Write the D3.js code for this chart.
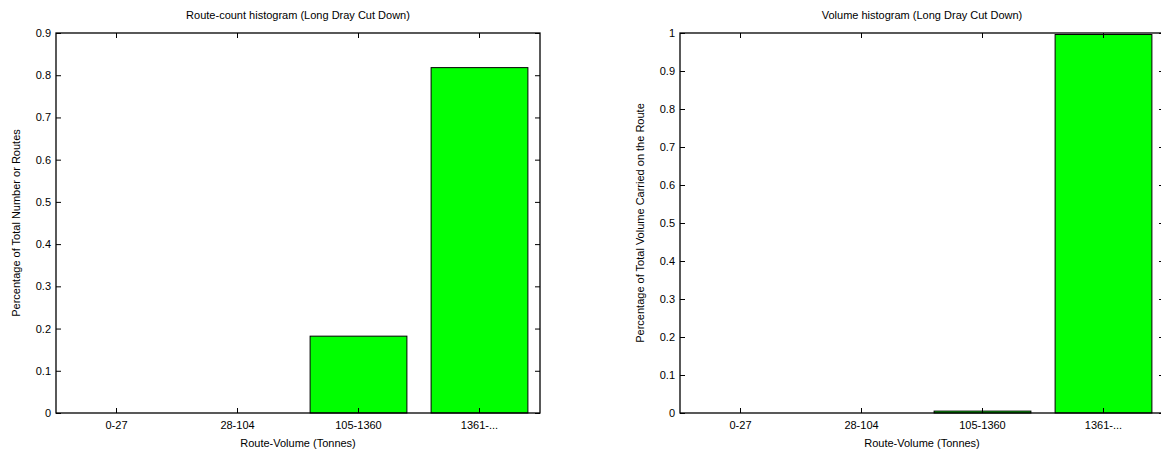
<!DOCTYPE html>
<html>
<head>
<meta charset="utf-8">
<script src="https://d3js.org/d3.v7.min.js"></script>
<style>
  body { margin: 0; background: #fff; }
  svg text { font-family: "Liberation Sans", Arial, sans-serif; fill: #000; }
  .axis path { display: none; }
  .axis line { stroke: #000; }
</style>
</head>
<body>
<div id="chart"></div>
<script>
"use strict";

// categories and values
var categories = ["0-27", "28-104", "105-1360", "1361-..."];
var routeShare = [0, 0, 0.182, 0.818];
var volumeShare = [0, 0, 0.005, 0.996];
var routeTicks = [0, 0.1, 0.2, 0.3, 0.4, 0.5, 0.6, 0.7, 0.8, 0.9];
var volumeTicks = [0, 0.1, 0.2, 0.3, 0.4, 0.5, 0.6, 0.7, 0.8, 0.9, 1];

var svg = d3.select("#chart").append("svg")
    .attr("width", 1161)
    .attr("height", 453);

var panels = [
  { left: 56, title: "Route-count histogram (Long Dray Cut Down)",
    ylabel: "Percentage of Total Number or Routes",
    values: routeShare, ticks: routeTicks, ymax: 0.9 },
  { left: 680, title: "Volume histogram (Long Dray Cut Down)",
    ylabel: "Percentage of Total Volume Carried on the Route",
    values: volumeShare, ticks: volumeTicks, ymax: 1 }
];

var plotW = 484, plotH = 380, plotTop = 33;

panels.forEach(function (p) {
  var g = svg.append("g").attr("transform", "translate(" + p.left + "," + plotTop + ")");

  var x = d3.scaleBand().domain(categories).range([0, plotW])
      .paddingInner(0.2).paddingOuter(0.1);
  var y = d3.scaleLinear().domain([0, p.ymax]).range([plotH, 0]);

  // bars
  g.selectAll(".bar")
      .data(p.values)
    .enter().append("rect")
      .attr("class", "bar")
      .attr("x", function (d, i) { return x(categories[i]); })
      .attr("y", function (d) { return y(d); })
      .attr("width", x.bandwidth())
      .attr("height", function (d) { return plotH - y(d); })
      .style("fill", "#00ff00")
      .style("stroke", "#000")
      .style("stroke-width", 1);

  // axes with inward ticks, MATLAB style
  var xb = g.append("g").attr("class", "axis")
      .attr("transform", "translate(0," + plotH + ")")
      .call(d3.axisBottom(x).tickSizeInner(-5).tickSizeOuter(0).tickPadding(8));
  xb.selectAll("text").style("font-size", "11px");

  g.append("g").attr("class", "axis")
      .call(d3.axisTop(x).tickSizeInner(-5).tickSizeOuter(0).tickFormat(""));

  var yl = g.append("g").attr("class", "axis")
      .call(d3.axisLeft(y).tickValues(p.ticks).tickSizeInner(-5).tickSizeOuter(0)
            .tickPadding(5).tickFormat(d3.format("")));
  yl.selectAll("text").style("font-size", "11px");

  g.append("g").attr("class", "axis")
      .attr("transform", "translate(" + plotW + ",0)")
      .call(d3.axisRight(y).tickValues(p.ticks).tickSizeInner(-5).tickSizeOuter(0).tickFormat(""));

  // box
  g.append("rect")
      .attr("width", plotW).attr("height", plotH)
      .style("fill", "none").style("stroke", "#000").style("stroke-width", 1.3);

  // labels
  g.append("text")
      .attr("x", plotW / 2).attr("y", -14)
      .style("text-anchor", "middle").style("font-size", "11px")
      .text(p.title);

  g.append("text")
      .attr("x", plotW / 2).attr("y", plotH + 34)
      .style("text-anchor", "middle").style("font-size", "11px")
      .text("Route-Volume (Tonnes)");

  g.append("text")
      .attr("transform", "rotate(-90)")
      .attr("x", -plotH / 2).attr("y", -36)
      .style("text-anchor", "middle").style("font-size", "11px")
      .text(p.ylabel);
});
</script>
</body>
</html>
